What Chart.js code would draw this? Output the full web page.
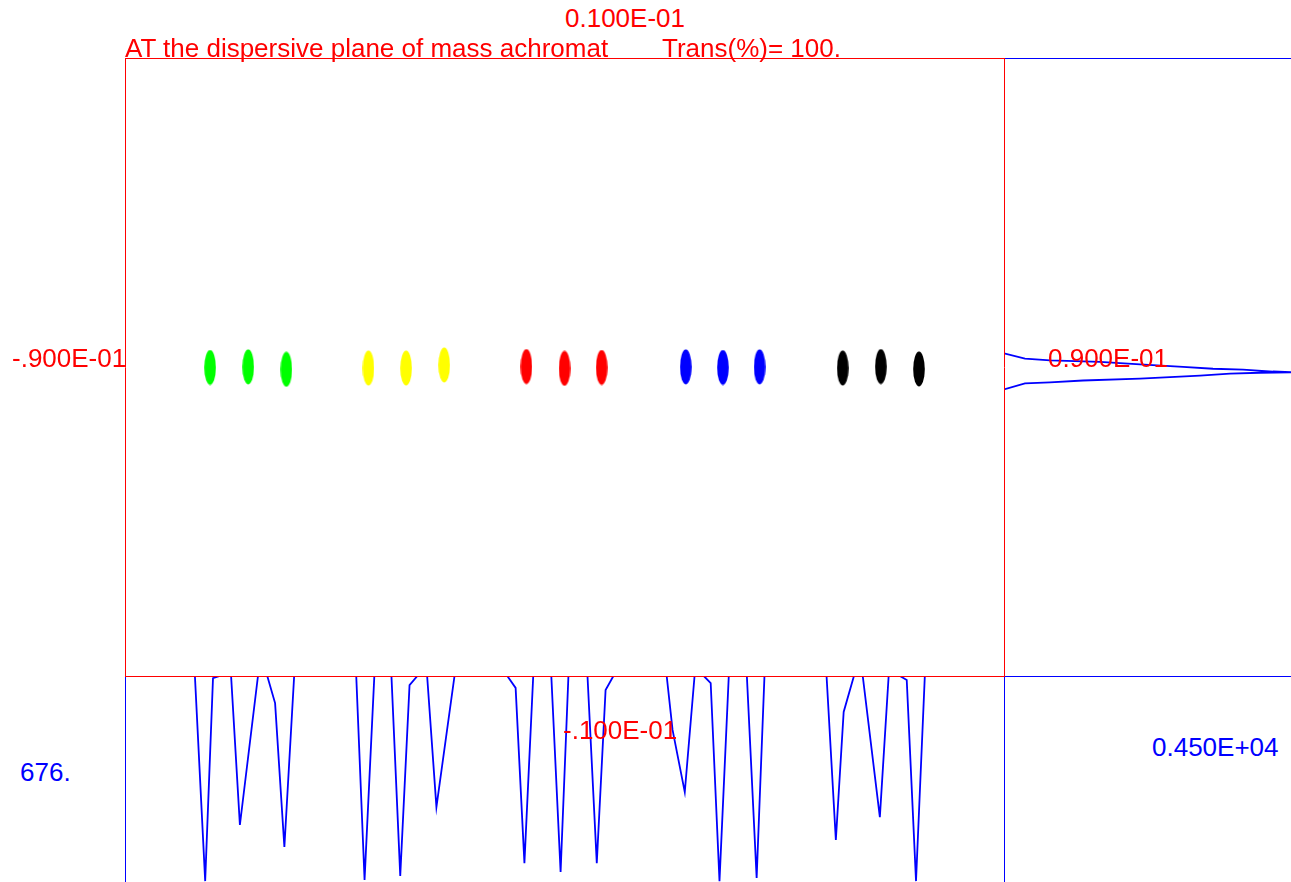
<!DOCTYPE html>
<html>
<head>
<meta charset="utf-8">
<style>
  html, body {
    margin: 0;
    padding: 0;
    background: #fff;
    width: 1291px;
    height: 882px;
    overflow: hidden;
    position: relative;
    font-family: 'Liberation Sans', Arial, sans-serif;
  }
  canvas { position: absolute; }
  .lbl {
    position: absolute;
    font-size: 26px;
    line-height: 26px;
    white-space: pre;
    color: #ff0000;
  }
  .blue { color: #0000ff; }
</style>
<script src="https://cdn.jsdelivr.net/npm/chart.js@4"></script>
</head>
<body>
<canvas id="bottomChart" width="880" height="206" style="left:125px;top:676px"></canvas>
<canvas id="rightChart" width="287" height="619" style="left:1004px;top:58px"></canvas>
<canvas id="mainChart" width="880" height="619" style="left:125px;top:58px"></canvas>

<div class="lbl" id="lblTop" style="left:565px;top:5px"></div>
<div class="lbl" id="lblTitle" style="left:125px;top:35px"></div>
<div class="lbl" id="lblTrans" style="left:662px;top:35px"></div>
<div class="lbl" id="lblLeft" style="left:12px;top:345px"></div>
<div class="lbl" id="lblRight" style="left:1048px;top:345px"></div>
<div class="lbl" id="lblBottom" style="left:563px;top:717px"></div>
<div class="lbl blue" id="lblCountX" style="left:20px;top:759px"></div>
<div class="lbl blue" id="lblCountY" style="left:1152px;top:734px"></div>

<script>
// labels of the plot
const titleText = 'AT the dispersive plane of mass achromat';
const transText = 'Trans(%)= 100.';
const yLimitLabels = ['0.100E-01', '-.100E-01'];
const xLimitLabels = ['-.900E-01', '0.900E-01'];
const countLabels = ['676.', '0.450E+04'];

// axis ranges
const xRange = [-0.09, 0.09];
const yRange = [-0.01, 0.01];
const countXMax = 676;
const countYMax = 4500;

// beam spot centres (x, y) for each charge state group
const greenX = [-0.0726, -0.0648, -0.0570];
const greenY = [0.00000, 0.00002, -0.00006];
const yellowX = [-0.0402, -0.0325, -0.0247];
const yellowY = [-0.00002, -0.00002, 0.00008];
const redX = [-0.0079, -0.0001, 0.0075];
const redY = [0.00003, -0.00003, 0.00000];
const blueX = [0.0247, 0.0323, 0.0398];
const blueY = [0.00002, 0.00000, 0.00002];
const blackX = [0.0568, 0.0646, 0.0724];
const blackY = [-0.00002, 0.00003, -0.00005];

// x projection (bottom panel)
const projX = [-0.0900, -0.0757, -0.0736, -0.0720, -0.0706, -0.0683, -0.0665, -0.0628,
  -0.0609, -0.0593, -0.0574, -0.0554, -0.0427, -0.0410, -0.0390, -0.0355, -0.0337, -0.0318,
  -0.0302, -0.0282, -0.0263, -0.0226, -0.0118, -0.0101, -0.0083, -0.0065, -0.0028, -0.0009,
  0.0007, 0.0046, 0.0065, 0.0083, 0.0099, 0.0208, 0.0220, 0.0245, 0.0265, 0.0284, 0.0298,
  0.0316, 0.0335, 0.0372, 0.0392, 0.0408, 0.0535, 0.0554, 0.0570, 0.0591, 0.0609, 0.0644,
  0.0662, 0.0685, 0.0699, 0.0718, 0.0736, 0.0900];
const projXCounts = [0, 0, 673, 7, 0, 0, 489, 0,
  0, 89, 561, 0, 0, 669, 0, 0, 656, 30,
  0, 0, 430, 0, 0, 39, 614, 0, 0, 643,
  0, 0, 614, 46, 0, 0, 177, 381, 0, 0, 23,
  673, 0, 0, 663, 0, 0, 538, 118, 0, 0, 463,
  0, 0, 13, 673, 0, 0];

// y projection (right panel)
const projYCounts = [0, 329, 721, 1505, 2133, 2807, 3277, 3748, 4218, 4500,
  4500, 4014, 3544, 3073, 2603, 2133, 1239, 721, 329, 0];
const projY = [0.00046, 0.00029, 0.00023, 0.00018, 0.00010, 0.00002, -0.00004, -0.00007, -0.00013, -0.00015,
  -0.00016, -0.00017, -0.00020, -0.00026, -0.00031, -0.00036, -0.00042, -0.00048, -0.00051, -0.00071];

document.getElementById('lblTop').textContent = yLimitLabels[0];
document.getElementById('lblBottom').textContent = yLimitLabels[1];
document.getElementById('lblTitle').textContent = titleText;
document.getElementById('lblTrans').textContent = transText;
document.getElementById('lblLeft').textContent = xLimitLabels[0];
document.getElementById('lblRight').textContent = xLimitLabels[1];
document.getElementById('lblCountX').textContent = countLabels[0];
document.getElementById('lblCountY').textContent = countLabels[1];

// frame lines drawn on the chart area edges
const framePlugin = {
  id: 'frame',
  afterDraw(chart, args, opts) {
    const { ctx, chartArea: a } = chart;
    ctx.save();
    ctx.strokeStyle = opts.color;
    ctx.lineWidth = 1;
    ctx.beginPath();
    if (opts.sides.includes('top')) { ctx.moveTo(a.left, a.top + 0.5); ctx.lineTo(a.right, a.top + 0.5); }
    if (opts.sides.includes('bottom')) { ctx.moveTo(a.left, a.bottom - 0.5); ctx.lineTo(a.right, a.bottom - 0.5); }
    if (opts.sides.includes('left')) { ctx.moveTo(a.left + 0.5, a.top); ctx.lineTo(a.left + 0.5, a.bottom); }
    if (opts.sides.includes('right')) { ctx.moveTo(a.right - 0.5, a.top); ctx.lineTo(a.right - 0.5, a.bottom); }
    ctx.stroke();
    ctx.restore();
  }
};

// spot glyph: an elongated blob
function makeSpot(color) {
  const c = document.createElement('canvas');
  c.width = 12;
  c.height = 36;
  const g = c.getContext('2d');
  g.fillStyle = color;
  g.beginPath();
  g.ellipse(6, 18, 5.8, 17.5, 0, 0, Math.PI * 2);
  g.fill();
  return c;
}

function toPoints(xs, ys) {
  return xs.map((x, i) => ({ x: x, y: ys[i] }));
}

const hiddenScales = (xMin, xMax, yMin, yMax, yReverse) => ({
  x: { type: 'linear', display: false, min: xMin, max: xMax },
  y: { type: 'linear', display: false, min: yMin, max: yMax, reverse: !!yReverse }
});

const spotGroups = [
  { xs: greenX, ys: greenY, color: '#00ff00' },
  { xs: yellowX, ys: yellowY, color: '#ffff00' },
  { xs: redX, ys: redY, color: '#ff0000' },
  { xs: blueX, ys: blueY, color: '#0000ff' },
  { xs: blackX, ys: blackY, color: '#000000' }
];

const baseOptions = {
  responsive: false,
  animation: false,
  layout: { padding: 0, autoPadding: false }
};

// main phase-space plot
new Chart(document.getElementById('mainChart'), {
  type: 'scatter',
  data: {
    datasets: spotGroups.map(gr => ({
      data: toPoints(gr.xs, gr.ys),
      pointStyle: makeSpot(gr.color),
      backgroundColor: gr.color,
      borderColor: gr.color
    }))
  },
  options: {
    ...baseOptions,
    scales: hiddenScales(xRange[0], xRange[1], yRange[0], yRange[1]),
    plugins: {
      legend: { display: false },
      tooltip: { enabled: false },
      frame: { color: '#ff0000', sides: ['top', 'bottom', 'left', 'right'] }
    }
  },
  plugins: [framePlugin]
});

// x projection below
new Chart(document.getElementById('bottomChart'), {
  type: 'scatter',
  data: {
    datasets: [{
      data: toPoints(projX, projXCounts),
      showLine: true,
      borderColor: '#0000ff',
      borderWidth: 1.8,
      pointRadius: 0,
      tension: 0
    }]
  },
  options: {
    ...baseOptions,
    scales: hiddenScales(xRange[0], xRange[1], 0, countXMax, true),
    plugins: {
      legend: { display: false },
      tooltip: { enabled: false },
      frame: { color: '#0000ff', sides: ['left', 'right'] }
    }
  },
  plugins: [framePlugin]
});

// y projection on the right
new Chart(document.getElementById('rightChart'), {
  type: 'scatter',
  data: {
    datasets: [{
      data: toPoints(projYCounts, projY),
      showLine: true,
      borderColor: '#0000ff',
      borderWidth: 1.8,
      pointRadius: 0,
      tension: 0
    }]
  },
  options: {
    ...baseOptions,
    scales: hiddenScales(0, countYMax, yRange[0], yRange[1]),
    plugins: {
      legend: { display: false },
      tooltip: { enabled: false },
      frame: { color: '#0000ff', sides: ['top', 'bottom'] }
    }
  },
  plugins: [framePlugin]
});
</script>
</body>
</html>
